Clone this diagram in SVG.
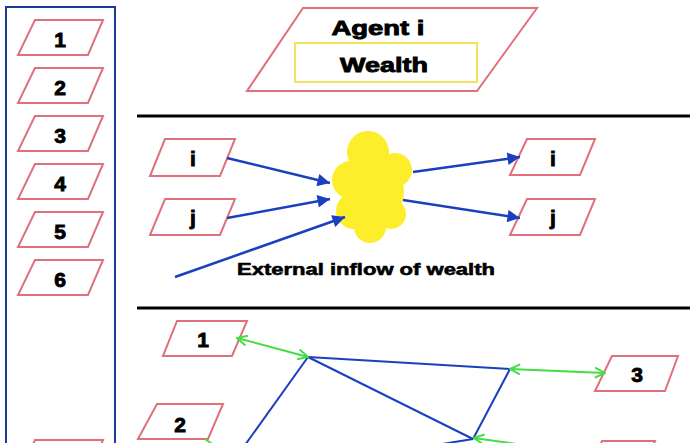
<svg xmlns="http://www.w3.org/2000/svg" width="690" height="443" viewBox="0 0 690 443">
<style>
.pg{fill:#fff;stroke:#e0707a;stroke-width:2}
.lbl{font-family:"Liberation Sans",Arial,sans-serif;font-weight:bold;font-size:21px;fill:#000;stroke:#000;stroke-width:0.9;text-anchor:middle}
.ext{font-family:"Liberation Sans",Arial,sans-serif;font-weight:bold;font-size:17px;fill:#000;stroke:#000;stroke-width:0.6}
.blue{stroke:#1a3fbf;stroke-width:2.5;fill:none}
.net{stroke:#1a3fbf;stroke-width:2;fill:none}
.green{stroke:#44dd44;stroke-width:2;fill:none}
.sep{stroke:#000;stroke-width:3}
</style>
<defs>
<marker id="ah" viewBox="0 0 10 10" refX="10" refY="5" markerWidth="6" markerHeight="5" orient="auto" markerUnits="strokeWidth">
<path d="M0,0 L10,5 L0,10 z" fill="#1a3fbf"/>
</marker>
<marker id="gh" viewBox="0 0 12 12" refX="11" refY="6" markerWidth="6" markerHeight="6" orient="auto-start-reverse" markerUnits="strokeWidth">
<path d="M1,1 L11,6 L1,11" fill="none" stroke="#44dd44" stroke-width="2"/>
</marker>
</defs>
<rect width="690" height="443" fill="#fff"/>

<g id="sidebar">
<rect x="6" y="7" width="109" height="450" fill="none" stroke="#1a3a9a" stroke-width="2"/>
</g>
<g id="side1"><polygon class="pg" points="35,20 103,20 88,55 18,55"/><text class="lbl" x="60" y="47">1</text></g>
<g id="side2"><polygon class="pg" points="35,68 103,68 88,103 18,103"/><text class="lbl" x="60" y="95">2</text></g>
<g id="side3"><polygon class="pg" points="35,116 103,116 88,151 18,151"/><text class="lbl" x="60" y="143">3</text></g>
<g id="side4"><polygon class="pg" points="35,164 103,164 88,199 18,199"/><text class="lbl" x="60" y="191">4</text></g>
<g id="side5"><polygon class="pg" points="35,212 103,212 88,247 18,247"/><text class="lbl" x="60" y="239">5</text></g>
<g id="side6"><polygon class="pg" points="35,260 103,260 88,295 18,295"/><text class="lbl" x="60" y="287">6</text></g>
<g id="side7"><polygon class="pg" points="35,440 103,440 88,475 18,475"/></g>

<g id="agent">
<polygon class="pg" points="303,8 537,8 477,91 247,91"/>
<text class="lbl" x="378" y="35" textLength="93" lengthAdjust="spacingAndGlyphs">Agent i</text>
<rect x="295" y="43" width="182" height="39" fill="#fff" stroke="#f6e15a" stroke-width="2"/>
<text class="lbl" x="384" y="72" textLength="88" lengthAdjust="spacingAndGlyphs">Wealth</text>
</g>

<g id="separators">
<line class="sep" x1="137" y1="116" x2="690" y2="116"/>
<line class="sep" x1="137" y1="308" x2="690" y2="308"/>
</g>

<g id="inI"><polygon class="pg" points="165,139 235,139 220,176 150,176"/><text class="lbl" x="193" y="166">i</text></g>
<g id="inJ"><polygon class="pg" points="165,199 235,199 220,235 150,235"/><text class="lbl" x="193" y="225">j</text></g>
<g id="outI"><polygon class="pg" points="527,139 595,139 580,175 510,175"/><text class="lbl" x="553" y="166">i</text></g>
<g id="outJ"><polygon class="pg" points="527,199 595,199 580,235 510,235"/><text class="lbl" x="553" y="225">j</text></g>

<g id="pool" fill="#fcee2a">
<circle cx="368" cy="152" r="21"/>
<circle cx="395" cy="170" r="17"/>
<circle cx="351" cy="180" r="19"/>
<circle cx="373" cy="192" r="31"/>
<circle cx="391" cy="214" r="15"/>
<circle cx="354" cy="211" r="18"/>
<circle cx="370" cy="227" r="16"/>
</g>
<text class="ext" x="237" y="275" textLength="258" lengthAdjust="spacingAndGlyphs">External inflow of wealth</text>

<g id="net1"><polygon class="pg" points="177,321 247,321 232,356 163,356"/><text class="lbl" x="203" y="347">1</text></g>
<g id="net2"><polygon class="pg" points="157,404 223,404 208,439 138,439"/><text class="lbl" x="180" y="432">2</text></g>
<g id="net3"><polygon class="pg" points="612,356 678,356 665,391 595,391"/><text class="lbl" x="637" y="382">3</text></g>
<g id="net4"><polygon class="pg" points="602,441 655,441 640,476 587,476"/></g>

<g id="connectors">
<line class="blue" x1="227" y1="158" x2="330" y2="183" marker-end="url(#ah)"/>
<line class="blue" x1="227" y1="218" x2="330" y2="199" marker-end="url(#ah)"/>
<line class="blue" x1="175" y1="277" x2="345" y2="217" marker-end="url(#ah)"/>
<line class="blue" x1="413" y1="172" x2="520" y2="157" marker-end="url(#ah)"/>
<line class="blue" x1="403" y1="200" x2="520" y2="218" marker-end="url(#ah)"/>

<line class="net" x1="308" y1="357" x2="510" y2="369"/>
<line class="net" x1="308" y1="357" x2="245" y2="445"/>
<line class="net" x1="308" y1="357" x2="473" y2="439"/>
<line class="net" x1="510" y1="369" x2="473" y2="439"/>
<line class="net" x1="473" y1="439" x2="430" y2="446"/>

<line class="green" x1="237" y1="338" x2="308" y2="357" marker-start="url(#gh)" marker-end="url(#gh)"/>
<line class="green" x1="510" y1="369" x2="605" y2="373" marker-start="url(#gh)" marker-end="url(#gh)"/>
<line class="green" x1="474" y1="438" x2="560" y2="450" marker-start="url(#gh)"/>
<line class="green" x1="205" y1="439" x2="215" y2="446"/>
</g>
</svg>
